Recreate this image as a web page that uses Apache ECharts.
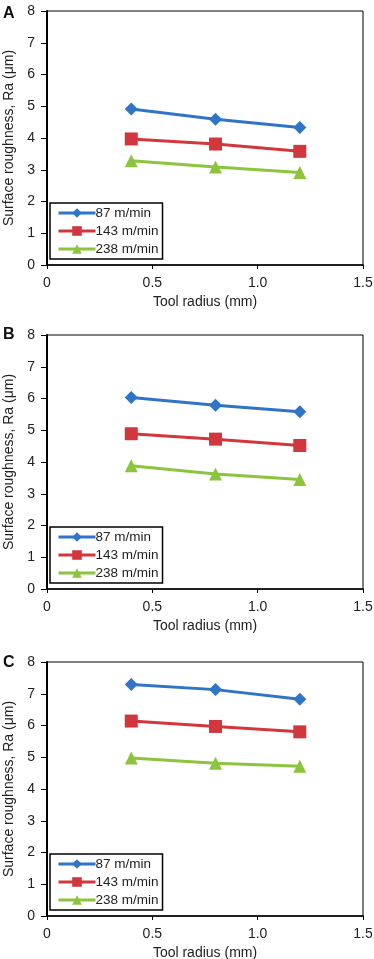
<!DOCTYPE html>
<html>
<head>
<meta charset="utf-8">
<script src="https://cdn.jsdelivr.net/npm/echarts@6/dist/echarts.min.js"></script>
<style>
  html, body { margin: 0; padding: 0; background: #fff; }
  #chart { width: 374px; height: 959px; }
</style>
</head>
<body>
<div id="chart"></div>
<script>
// tool radius (mm) on x
const radius = [0.4, 0.8, 1.2];
const speedNames = ['87 m/min', '143 m/min', '238 m/min'];
const panelLabels = ['A', 'B', 'C'];
const xTicks = ['0', '0.5', '1.0', '1.5'];

// Ra values (um), one array per panel, rows follow speedNames
const panelA = [
    [4.91, 4.59, 4.33],
    [3.97, 3.81, 3.58],
    [3.28, 3.09, 2.91]
];
const panelB = [
    [6.03, 5.79, 5.58],
    [4.89, 4.72, 4.52],
    [3.88, 3.62, 3.45]
];
const panelC = [
    [7.29, 7.13, 6.83],
    [6.14, 5.97, 5.80],
    [4.98, 4.81, 4.72]
];
const panels = [panelA, panelB, panelC];

const colors = ['#2f74c6', '#d2373d', '#8cc43e'];
const symbols = ['diamond', 'rect', 'triangle'];
const symbolSizes = [13, 13, 13];
const font = '"Liberation Sans", Arial, sans-serif';
const gridTops = [11, 335, 662];
const letterTops = [6, 327, 655];
const gridHeight = 254;

let chart = echarts.init(document.getElementById('chart'));

let grids = [], xAxes = [], yAxes = [], series = [], titles = [], legends = [];
panels.forEach(function(panel, p) {
    grids.push({
        left: 47,
        right: 11,
        top: gridTops[p],
        height: gridHeight,
        outerBoundsMode: 'none',
        containLabel: false,
        show: true,
        borderColor: '#000',
        borderWidth: 1
    });
    titles.push({
        text: panelLabels[p],
        left: 3,
        top: letterTops[p],
        padding: 0,
        textStyle: {fontFamily: font, fontSize: 16, fontWeight: 'bold', color: '#111'}
    });
    xAxes.push({
        gridIndex: p,
        type: 'value',
        min: 0,
        max: 1.5,
        interval: 0.5,
        name: 'Tool radius (mm)',
        nameLocation: 'middle',
        nameGap: 30,
        nameTextStyle: {fontFamily: font, fontSize: 14, color: '#222'},
        axisLine: {lineStyle: {color: '#000', width: 1.5}},
        axisTick: {length: 4, lineStyle: {color: '#000'}},
        axisLabel: {
            fontFamily: font, fontSize: 14, color: '#222', margin: 11,
            formatter: function(v) { return xTicks[Math.round(v / 0.5)]; }
        },
        splitLine: {show: false}
    });
    yAxes.push({
        gridIndex: p,
        type: 'value',
        min: 0,
        max: 8,
        interval: 1,
        name: 'Surface roughness, Ra (μm)',
        nameLocation: 'middle',
        nameGap: 28,
        nameTextStyle: {fontFamily: font, fontSize: 14, color: '#222'},
        axisLine: {lineStyle: {color: '#000', width: 2}},
        axisTick: {length: 6, lineStyle: {color: '#000'}},
        axisLabel: {fontFamily: font, fontSize: 14, color: '#222', margin: 12},
        splitLine: {show: false}
    });
    panel.forEach(function(vals, s) {
        series.push({
            name: speedNames[s],
            type: 'line',
            xAxisIndex: p,
            yAxisIndex: p,
            data: radius.map(function(r, i) { return [r, vals[i]]; }),
            symbol: symbols[s],
            symbolSize: symbolSizes[s],
            color: colors[s],
            lineStyle: {width: 3, color: colors[s]},
            itemStyle: {color: colors[s]},
            animation: false
        });
    });
    legends.push({
        orient: 'vertical',
        left: 50,
        top: gridTops[p] + 192,
        width: 112,
        borderColor: '#000',
        borderWidth: 1.5,
        padding: [3, 4, 3, 7],
        itemWidth: 37,
        itemHeight: 12,
        itemGap: 4,
        data: speedNames,
        lineStyle: {width: 3},
        textStyle: {fontFamily: font, fontSize: 13.5, color: '#222', padding: [0, 0, 0, -5]}
    });
});

chart.setOption({
    animation: false,
    backgroundColor: '#fff',
    title: titles,
    legend: legends,
    grid: grids,
    xAxis: xAxes,
    yAxis: yAxes,
    series: series
});
</script>
</body>
</html>
